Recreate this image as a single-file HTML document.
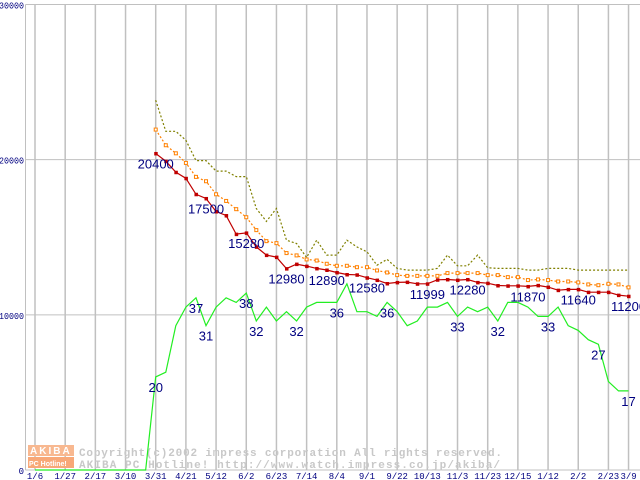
<!DOCTYPE html>
<html><head><meta charset="utf-8"><style>
html,body{margin:0;padding:0;background:#fff;width:640px;height:480px;overflow:hidden}
svg{display:block}
.t{font-family:"Liberation Mono",monospace;fill:#000080}
.v{font-family:"Liberation Sans",sans-serif;fill:#000080}
</style></head><body>
<svg id="chart" width="640" height="480" viewBox="0 0 640 480" xmlns="http://www.w3.org/2000/svg">
<g id="grid"></g>
<g id="wm">
<rect x="28" y="445" width="46" height="11" fill="#f8b890"/>
<rect x="28" y="457" width="46" height="11" fill="#f8a878"/>
<text x="30" y="454" font-family="Liberation Sans,sans-serif" font-size="10" font-weight="bold" fill="#fff" letter-spacing="2">AKIBA</text>
<text x="29" y="466" font-family="Liberation Sans,sans-serif" font-size="7" font-weight="bold" fill="#fff">PC Hotline!</text>
<text x="79" y="456" font-family="Liberation Mono,monospace" font-size="11" font-weight="bold" fill="#c8c8c8" textLength="423">Copyright(c)2002 impress corporation All rights reserved.</text>
<text x="79" y="468" font-family="Liberation Mono,monospace" font-size="11" font-weight="bold" fill="#c8c8c8" textLength="421">AKIBA PC Hotline!  http://www.watch.impress.co.jp/akiba/</text>
</g>
<g id="series"></g>
<g id="labels"></g>
</svg>
<script>
const xTickLabels=["1/6","1/27","2/17","3/10","3/31","4/21","5/12","6/2","6/23","7/14","8/4","9/1","9/22","10/13","11/3","11/23","12/15","1/12","2/2","2/23","3/9"];
const xTickIdx=[0,3,6,9,12,15,18,21,24,27,30,33,36,39,42,45,48,51,54,57,59];
const yTicks=[0,10000,20000,30000];
const startIdx=12;
const redVals=[20400,19900,19190,18800,17770,17500,16660,16400,15200,15280,14380,13850,13720,12980,13270,13140,12990,12890,12730,12600,12580,12390,12240,12020,12090,12110,12000,11999,12260,12280,12240,12280,12090,12040,11890,11870,11870,11830,11900,11790,11590,11640,11640,11460,11460,11460,11270,11200];
const orangeVals=[21940,20930,20410,19790,18890,18610,17770,17340,16810,16290,15460,14750,14620,13980,13830,13570,13500,13290,13160,13160,13070,13070,12860,12730,12560,12510,12510,12510,12510,12690,12690,12690,12690,12560,12560,12430,12430,12240,12280,12240,12150,12150,12090,11960,11910,12000,11960,11770];
const oliveVals=[23830,21830,21830,21250,19940,19940,19260,19260,18910,18910,16850,16020,16850,14810,14600,13700,14810,13850,13850,14810,14380,14060,13200,13570,12990,12880,12880,12880,12990,13850,13160,13160,13850,13030,12990,12990,12990,12880,12880,12990,12990,12990,12880,12880,12880,12880,12880,12880];
const greenVals=[20,21,31,35,37,31,35,37,36,38,32,35,32,34,32,35,36,36,36,40,34,34,33,36,34,31,32,35,35,36,33,35,34,35,32,36,36,35,33,33,35,31,30,28,27,19,17,17];
const redLabelIdx=[12,17,21,25,29,33,39,43,49,54,59];
const redLabelText=["20400","17500","15280","12980","12890","12580","11999","12280","11870","11640","11200"];
const greenLabelIdx=[12,16,17,21,22,26,30,35,42,46,51,56,59];

const NS="http://www.w3.org/2000/svg";
function X(i){return 35+i*10.06;}
function Y(v){return 470-v*(465.5/30000);}
function GY(n){return Y(n*300);}
function mk(tag,attrs,parent){const e=document.createElementNS(NS,tag);for(const k in attrs)e.setAttribute(k,attrs[k]);parent.appendChild(e);return e;}
const grid=document.getElementById('grid'),ser=document.getElementById('series'),lab=document.getElementById('labels');

yTicks.forEach(v=>{
  const l=mk('line',{x1:25.5,x2:640,y1:Y(v),y2:Y(v),stroke:'#c0c0c0','stroke-width':1},grid);
  
  
  const s=String(v);
  const t=mk('text',{x:24,y:Y(v)+4,'text-anchor':'end','font-size':9,class:'t'},grid);
  if(s.length>1){t.setAttribute('textLength',s.length*5);t.setAttribute('lengthAdjust','spacingAndGlyphs');}
  t.textContent=s;
  
  
});
const ax=mk('line',{x1:25.5,x2:25.5,y1:4.5,y2:470,stroke:'#c0c0c0','stroke-width':1},grid);


xTickIdx.forEach((ix,k)=>{
  const l=mk('line',{x1:X(ix),x2:X(ix),y1:4.5,y2:470,stroke:'#c0c0c0','stroke-width':1.5},grid);
  
  
  const t=mk('text',{x:X(ix),y:479,'text-anchor':'middle','font-size':9,class:'t'},grid);
  t.textContent=xTickLabels[k];
  
  
});

function pts(arr,f){return arr.map((v,j)=>X(startIdx+j).toFixed(1)+','+f(v).toFixed(1)).join(' ');}
let gp=X(0)+','+GY(0)+' '+X(startIdx-1)+','+GY(0)+' '+pts(greenVals,GY);
const g=mk('polyline',{points:gp,fill:'none',stroke:'#22ee22','stroke-width':1.2},ser);


const ol=mk('polyline',{points:pts(oliveVals,Y),fill:'none',stroke:'#808000','stroke-width':1.2,'stroke-dasharray':'2,2'},ser);


const or=mk('polyline',{points:pts(orangeVals,Y),fill:'none',stroke:'#ff8000','stroke-width':1.2,'stroke-dasharray':'2,2'},ser);


orangeVals.forEach((v,j)=>{
  const r=mk('rect',{x:X(startIdx+j)-1.5,y:Y(v)-1.5,width:3,height:3,fill:'#fff',stroke:'#ff8000','stroke-width':1},ser);
  
  
});
const rl=mk('polyline',{points:pts(redVals,Y),fill:'none',stroke:'#c00000','stroke-width':1.2},ser);


redVals.forEach((v,j)=>{
  const r=mk('rect',{x:X(startIdx+j)-1.5,y:Y(v)-1.5,width:3.5,height:3.5,fill:'#c00000'},ser);
  
  
});
redLabelIdx.forEach((ix,k)=>{
  const t=mk('text',{x:X(ix),y:Y(redVals[ix-startIdx])+15,'text-anchor':'middle','font-size':13,class:'v'},lab);
  t.textContent=redLabelText[k];
  
  
});
greenLabelIdx.forEach(ix=>{
  const v=greenVals[ix-startIdx];
  const t=mk('text',{x:X(ix),y:GY(v)+15,'text-anchor':'middle','font-size':13,class:'v'},lab);
  t.textContent=String(Math.round(v));
  
  
});
</script>
</body></html>
